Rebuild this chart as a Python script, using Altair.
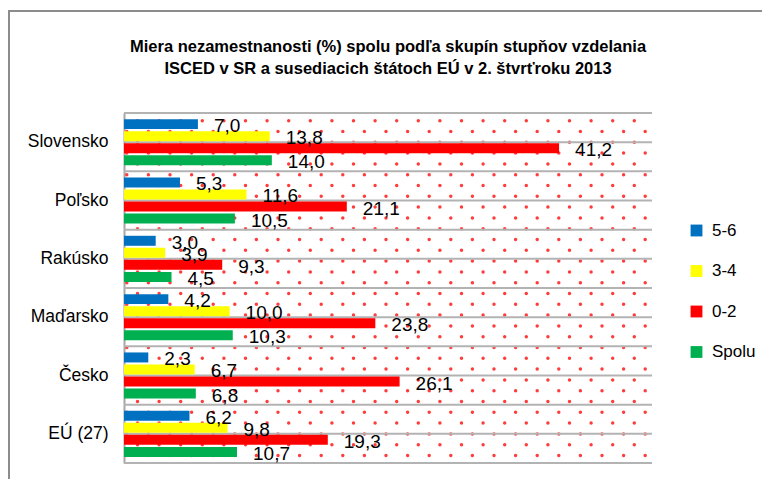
import altair as alt
import pandas as pd
import numpy as np

FONT = "Liberation Sans, Arial, sans-serif"

countries = ["Slovensko", "Poľsko", "Rakúsko", "Maďarsko", "Česko", "EÚ (27)"]
series = ["5-6", "3-4", "0-2", "Spolu"]
v_56 = [7.0, 5.3, 3.0, 4.2, 2.3, 6.2]
v_34 = [13.8, 11.6, 3.9, 10.0, 6.7, 9.8]
v_02 = [41.2, 21.1, 9.3, 23.8, 26.1, 19.3]
v_spolu = [14.0, 10.5, 4.5, 10.3, 6.8, 10.7]
colors = ["#0070C0", "#FFFF00", "#FF0000", "#00B050"]
title_lines = [
    "Miera nezamestnanosti (%) spolu podľa skupín stupňov vzdelania",
    "ISCED v SR a susediacich štátoch EÚ v 2. štvrťroku 2013",
]

rows = []
for i, c in enumerate(countries):
    for s, vals in zip(series, [v_56, v_34, v_02, v_spolu]):
        rows.append({"country": c, "series": s, "value": vals[i],
                     "label": f"{vals[i]:.1f}".replace(".", ",")})
df = pd.DataFrame(rows)

# decorative background: half-category gridlines and a dotted fill pattern
W, H = 528, 350
XMAX = 50
grid = pd.DataFrame({"g": np.arange(0, 13, 1)})
px_x = W / XMAX
px_y = H / 12
dot_rows = []
r = 0
yp = 7.7
while yp < H:
    xp = 13.5 if r % 2 == 0 else 2.8
    while xp < W:
        dot_rows.append({"dx": xp / px_x, "dy": yp / px_y})
        xp += 21.6
    yp += 10.8
    r += 1
dots = pd.DataFrame(dot_rows)

xscale = alt.Scale(domain=[0, XMAX], nice=False, zero=True)
yq = alt.Scale(domain=[0, 12], reverse=True, nice=False, zero=True)

grid_layer = alt.Chart(grid).mark_rule(color="#b3b3b3", strokeWidth=2).encode(
    y=alt.Y("g:Q", scale=yq, axis=None)
)
dot_layer = alt.Chart(dots).mark_circle(color="#ff1a1a", size=12, opacity=0.85).encode(
    x=alt.X("dx:Q", scale=xscale, axis=None),
    y=alt.Y("dy:Q", scale=yq, axis=None),
)
frame_left = alt.Chart(grid).mark_rule(color="#8c8c8c", strokeWidth=2).encode(
    x=alt.value(-115.5), y=alt.value(-102), y2=alt.value(400)
)
frame_top = alt.Chart(grid).mark_rule(color="#8c8c8c", strokeWidth=2).encode(
    x=alt.value(-116), x2=alt.value(700), y=alt.value(-102)
)
deco = alt.layer(frame_left, frame_top, dot_layer, grid_layer)

base = alt.Chart(df)
yenc = alt.Y(
    "country:N", sort=countries,
    scale=alt.Scale(paddingInner=0.21, paddingOuter=0.105),
    axis=alt.Axis(title=None, orient="left", ticks=False, grid=False,
                  domainColor="#a6a6a6", domainWidth=2, labelFont=FONT,
                  labelFontSize=17.5, labelColor="#000000", labelPadding=16,
                  labelLimit=300),
)
yoff = alt.YOffset("series:N", sort=series,
                   scale=alt.Scale(paddingInner=0.17, paddingOuter=0))
bars = base.mark_bar().encode(
    x=alt.X("value:Q", scale=xscale, axis=None),
    y=yenc,
    yOffset=yoff,
    color=alt.Color(
        "series:N", sort=series, scale=alt.Scale(domain=series, range=colors),
        legend=alt.Legend(
            title=None, orient="none", legendX=564, legendY=109,
            symbolType="square", symbolSize=140, symbolStrokeWidth=0,
            labelFont=FONT, labelFontSize=17, labelColor="#000000",
            rowPadding=22.5, labelOffset=7, padding=0,
        ),
    ),
)
labels = base.mark_text(align="left", baseline="middle", dx=16, dy=2,
                        font=FONT, fontSize=19, color="#000000").encode(
    x=alt.X("value:Q", scale=xscale, axis=None),
    y=yenc,
    yOffset=yoff,
    text="label:N",
)
main = alt.layer(bars, labels)

chart = alt.layer(deco, main).resolve_scale(y="independent").properties(
    width=W, height=H,
    autosize=alt.AutoSizeParams(type="none"),
    padding={"left": 116, "top": 105, "right": 110, "bottom": 16},
    title=alt.TitleParams(
        text=title_lines, anchor="middle", frame="group", font=FONT,
        fontSize=16.5, fontWeight="bold", lineHeight=22, offset=-67,
        color="#000000",
    ),
).configure_view(stroke=None)

chart.save("out.html", embed_options={"renderer": "svg", "actions": False})
